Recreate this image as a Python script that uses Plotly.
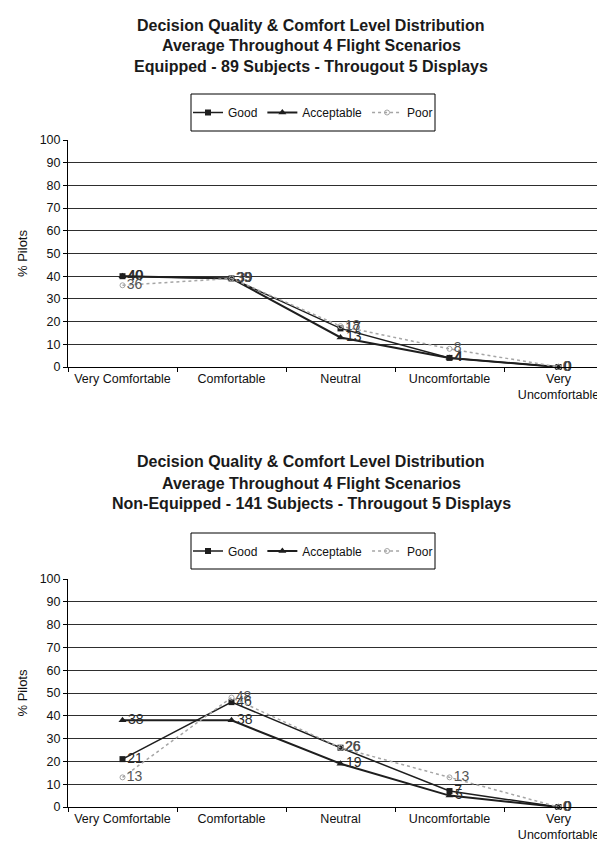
import plotly.graph_objects as go

categories = ["Very Comfortable", "Comfortable", "Neutral", "Uncomfortable", "Very<br>Uncomfortable"]

# Chart 1: Equipped - 89 subjects
eq_good = [40, 39, 17, 4, 0]
eq_acceptable = [40, 39, 13, 4, 0]
eq_poor = [36, 39, 18, 8, 0]

# Chart 2: Non-Equipped - 141 subjects
ne_good = [21, 46, 26, 7, 0]
ne_acceptable = [38, 38, 19, 5, 0]
ne_poor = [13, 48, 26, 13, 0]

y_ticks = list(range(0, 101, 10))

titles_1 = ["Decision Quality & Comfort Level Distribution",
            "Average Throughout 4 Flight Scenarios",
            "Equipped - 89 Subjects - Througout 5 Displays"]
titles_2 = ["Decision Quality & Comfort Level Distribution",
            "Average Throughout 4 Flight Scenarios",
            "Non-Equipped - 141 Subjects - Througout 5 Displays"]

W, H = 605, 841
FONT = "Arial, Liberation Sans, Helvetica, sans-serif"
DARK = "#1e1e1e"
POOR = "#a5a5a5"


def py(p):
    return 1 - p / H


def px(p):
    return p / W


fig = go.Figure()

series_styles = [
    ("Good", dict(color=DARK, width=1.5), dict(symbol="square", size=6, color=DARK)),
    ("Acceptable", dict(color=DARK, width=2), dict(symbol="triangle-up", size=7, color=DARK)),
    ("Poor", dict(color=POOR, width=1.5, dash="dot"), dict(symbol="circle-open", size=5, color=POOR)),
]

for (xa, ya, leg, data) in [
    ("x", "y", "legend", [eq_good, eq_acceptable, eq_poor]),
    ("x2", "y2", "legend2", [ne_good, ne_acceptable, ne_poor]),
]:
    for (name, line, marker), vals in zip(series_styles, data):
        fig.add_trace(go.Scatter(
            x=categories, y=vals, name=name,
            mode="lines+markers+text",
            text=[str(v) for v in vals],
            textposition="middle right",
            textfont=dict(family=FONT, size=14, color="#2a2a2a" if name != "Poor" else "#555555"),
            line=line, marker=marker,
            xaxis=xa, yaxis=ya, legend=leg,
            cliponaxis=False,
        ))

axis_common_x = dict(
    type="category", categoryorder="array", categoryarray=categories,
    range=[-0.5, 4.5], showline=True, linecolor="black", linewidth=1,
    ticks="outside", tickson="boundaries", ticklen=4, tickcolor="black",
    showgrid=False, zeroline=False, tickangle=0, automargin=False,
    tickfont=dict(family=FONT, size=12.5, color="#111"),
)
axis_common_y = dict(
    range=[0, 100], tickvals=y_ticks, showline=True, linecolor="black", linewidth=1,
    ticks="outside", ticklen=4, tickcolor="black", automargin=False,
    showgrid=True, gridcolor="#2e2e2e", gridwidth=1.2, zeroline=False,
    tickfont=dict(family=FONT, size=12.5, color="#111"),
    title=dict(text="% Pilots", font=dict(family=FONT, size=13, color="#111"), standoff=9),
)

legend_common = dict(orientation="h", xanchor="center", yanchor="middle",
                     bgcolor="rgba(0,0,0,0)", borderwidth=0, itemwidth=30,
                     font=dict(family=FONT, size=12, color="#111"))

fig.update_layout(
    width=W, height=H,
    margin=dict(l=0, r=0, t=0, b=0, autoexpand=False),
    paper_bgcolor="white", plot_bgcolor="white",
    font=dict(family=FONT, color="#111"),
    xaxis=dict(axis_common_x, domain=[px(60), 1.0], anchor="y"),
    yaxis=dict(axis_common_y, domain=[py(359), py(132)], anchor="x"),
    xaxis2=dict(axis_common_x, domain=[px(60), 1.0], anchor="y2"),
    yaxis2=dict(axis_common_y, domain=[py(799), py(571)], anchor="x2"),
    legend=dict(legend_common, x=px(305), y=py(104.5)),
    legend2=dict(legend_common, x=px(305), y=py(543)),
    showlegend=True,
)

# Legend boxes
for top, bot in [(86, 123), (525, 561)]:
    fig.add_shape(type="rect", xref="paper", yref="paper",
                  x0=px(183), x1=px(427), y0=py(bot), y1=py(top),
                  line=dict(color="black", width=1), fillcolor="rgba(0,0,0,0)")

# Titles
for lines, ys in [(titles_1, [17, 38, 59]), (titles_2, [453, 475, 496])]:
    for t, yy in zip(lines, ys):
        fig.add_annotation(text="<b>" + t + "</b>", xref="paper", yref="paper",
                           x=px(303), y=py(yy), xanchor="center", yanchor="middle",
                           showarrow=False, font=dict(family=FONT, size=16, color="#1a1a1a"))

fig.write_html("out.html")
